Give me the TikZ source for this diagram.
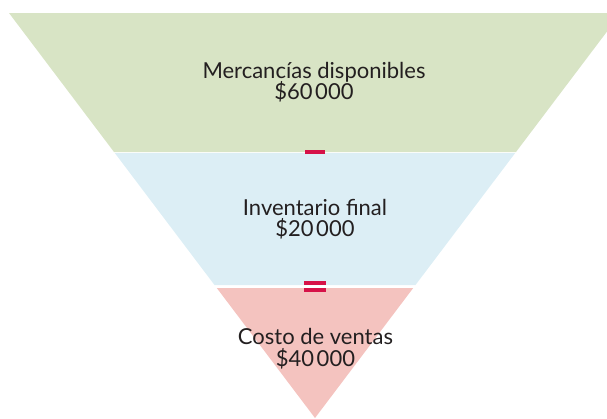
\documentclass[tikz,border=0pt]{standalone}
\usepackage{fontspec}
\setmainfont{Lato}
\definecolor{bandgreen}{RGB}{216,228,197}
\definecolor{bandblue}{RGB}{220,238,245}
\definecolor{bandpink}{RGB}{244,195,191}
\definecolor{markred}{RGB}{214,18,72}
\definecolor{txt}{RGB}{35,31,32}
\newcommand{\tsp}{\kern2.5pt}
\tikzset{
  lbl/.style={anchor=base, inner sep=0pt, text=txt, font=\fontsize{22}{24}\selectfont},
  opbar/.style={fill=markred, draw=none},
}
\begin{document}
\begin{tikzpicture}[x=1pt,y=-1pt]
\useasboundingbox (0,0) rectangle (607,418);
\clip (0,0) rectangle (607,418);
% bands
\fill[bandgreen] (9,13) -- (621,13) -- (516.0,152) -- (114.0,152) -- cycle;
\fill[bandblue] (114.8,153) -- (515.2,153) -- (415.5,285) -- (214.5,285) -- cycle;
\fill[bandpink] (216.8,288) -- (413.2,288) -- (315,418) -- cycle;
% operators
\fill[opbar] (305,150) rectangle (325,154);
\fill[opbar] (304,281) rectangle (326,285);
\fill[opbar] (304,288) rectangle (326,292);
% labels
\node[lbl] (g1) at (314,78) {Mercancías disponibles};
\node[lbl] (g2) at (314,99) {\$60\tsp000};
\node[lbl] (b1) at (315,215) {Inventario final};
\node[lbl] (b2) at (315,236.5) {\$20\tsp000};
\node[lbl] (p1) at (315.5,344) {Costo de ventas};
\node[lbl] (p2) at (315.5,366) {\$40\tsp000};
\end{tikzpicture}
\end{document}
